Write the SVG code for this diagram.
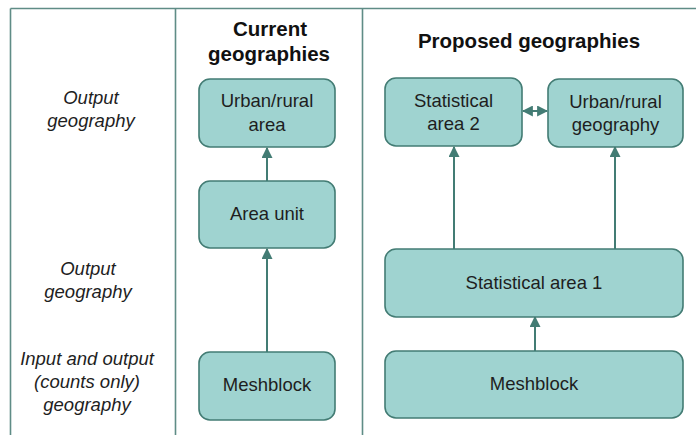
<svg xmlns="http://www.w3.org/2000/svg" width="696" height="435" viewBox="0 0 696 435">
  <style>
    .frame { stroke: #5f8c86; stroke-width: 1.6; fill: none; }
    .box { fill: #9fd3d0; stroke: #437c74; stroke-width: 1.6; }
    .lbl { font-family: "Liberation Sans", Arial, sans-serif; font-size: 18.5px; fill: #1e1e1e; text-anchor: middle; }
    .side { font-family: "Liberation Sans", Arial, sans-serif; font-size: 18.5px; font-style: italic; fill: #1e1e1e; text-anchor: middle; }
    .head { font-family: "Liberation Sans", Arial, sans-serif; font-size: 20.5px; font-weight: bold; fill: #111; text-anchor: middle; }
    .conn { stroke: #437c74; stroke-width: 2; fill: none; }
  </style>
  <defs>
    <marker id="tip" viewBox="0 0 10 10" refX="9" refY="5" markerWidth="5.5" markerHeight="5.5" orient="auto-start-reverse" markerUnits="strokeWidth">
      <path d="M0,0 L10,5 L0,10 z" fill="#437c74"/>
    </marker>
  </defs>

  <rect width="696" height="435" fill="#ffffff"/>

  <!-- table grid -->
  <g id="grid">
    <line class="frame" x1="10.5" y1="8.5" x2="696" y2="8.5"/>
    <line class="frame" x1="10.5" y1="8.5" x2="10.5" y2="435"/>
    <line class="frame" x1="175.5" y1="8.5" x2="175.5" y2="435"/>
    <line class="frame" x1="362.5" y1="8.5" x2="362.5" y2="435"/>
  </g>

  <!-- row labels -->
  <g id="row-labels">
    <text class="side" x="91" y="104">Output</text>
    <text class="side" x="91" y="127">geography</text>
    <text class="side" x="88" y="275">Output</text>
    <text class="side" x="88" y="298">geography</text>
    <text class="side" x="87" y="365">Input and output</text>
    <text class="side" x="87" y="388">(counts only)</text>
    <text class="side" x="87" y="411">geography</text>
  </g>

  <!-- column headings -->
  <g id="headings">
    <text class="head" x="270" y="36">Current</text>
    <text class="head" x="269" y="61">geographies</text>
    <text class="head" x="529" y="48">Proposed geographies</text>
  </g>

  <!-- connectors -->
  <g id="connectors">
    <line class="conn" x1="267" y1="181" x2="267" y2="148" marker-end="url(#tip)"/>
    <line class="conn" x1="267" y1="352" x2="267" y2="249" marker-end="url(#tip)"/>
    <line class="conn" x1="454" y1="249" x2="454" y2="147" marker-end="url(#tip)"/>
    <line class="conn" x1="615" y1="249" x2="615" y2="147" marker-end="url(#tip)"/>
    <line class="conn" x1="535" y1="351" x2="535" y2="317" marker-end="url(#tip)"/>
    <line class="conn" x1="523" y1="111" x2="547" y2="111" marker-start="url(#tip)" marker-end="url(#tip)"/>
  </g>

  <!-- current geographies -->
  <g id="cur-urban-rural">
    <rect class="box" x="199" y="79" width="136" height="68" rx="11"/>
    <text class="lbl" x="267" y="107">Urban/rural</text>
    <text class="lbl" x="267" y="131">area</text>
  </g>
  <g id="cur-area-unit">
    <rect class="box" x="199" y="181" width="136" height="67" rx="11"/>
    <text class="lbl" x="267" y="220">Area unit</text>
  </g>
  <g id="cur-meshblock">
    <rect class="box" x="199" y="352" width="136" height="68" rx="11"/>
    <text class="lbl" x="267" y="391">Meshblock</text>
  </g>

  <!-- proposed geographies -->
  <g id="sa2">
    <rect class="box" x="385" y="78" width="137" height="68" rx="11"/>
    <text class="lbl" x="453.5" y="107">Statistical</text>
    <text class="lbl" x="453.5" y="130">area 2</text>
  </g>
  <g id="urban-rural-geo">
    <rect class="box" x="548" y="79" width="135" height="68" rx="11"/>
    <text class="lbl" x="615.5" y="108">Urban/rural</text>
    <text class="lbl" x="615.5" y="131">geography</text>
  </g>
  <g id="sa1">
    <rect class="box" x="385" y="249" width="298" height="68" rx="11"/>
    <text class="lbl" x="534" y="289">Statistical area 1</text>
  </g>
  <g id="new-meshblock">
    <rect class="box" x="385" y="351" width="298" height="67" rx="11"/>
    <text class="lbl" x="534" y="390">Meshblock</text>
  </g>
</svg>
